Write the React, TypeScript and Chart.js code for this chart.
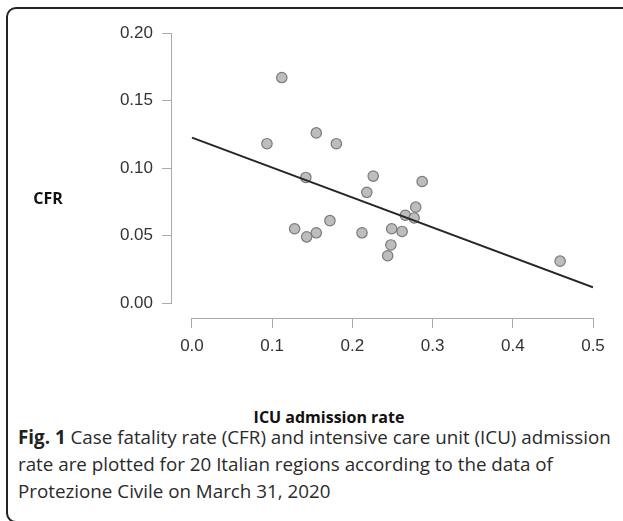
import React, { useEffect, useRef } from "react";
import { Chart, registerables } from "chart.js";

Chart.register(...registerables);

// ICU admission rate (x) and case fatality rate (y) per Italian region
const icuRate = [0.112, 0.0935, 0.155, 0.18, 0.142, 0.226, 0.218, 0.287, 0.172, 0.128, 0.155, 0.143, 0.212, 0.249, 0.262, 0.279, 0.266, 0.277, 0.248, 0.244, 0.459];
const cfr = [0.167, 0.118, 0.126, 0.118, 0.093, 0.094, 0.082, 0.09, 0.061, 0.055, 0.052, 0.049, 0.052, 0.055, 0.053, 0.071, 0.065, 0.063, 0.043, 0.035, 0.031];

const xTicks = [0, 0.1, 0.2, 0.3, 0.4, 0.5];
const yTicks = [0, 0.05, 0.1, 0.15, 0.2];

const xTitle = "ICU admission rate";
const yTitle = "CFR";

function fit(xs: number[], ys: number[]) {
  const n = xs.length;
  const mx = xs.reduce((a, b) => a + b, 0) / n;
  const my = ys.reduce((a, b) => a + b, 0) / n;
  let sxy = 0;
  let sxx = 0;
  for (let i = 0; i < n; i++) {
    sxy += (xs[i] - mx) * (ys[i] - my);
    sxx += (xs[i] - mx) * (xs[i] - mx);
  }
  const slope = sxy / sxx;
  return { slope, intercept: my - slope * mx };
}

const rAxes = {
  id: "rAxes",
  beforeDatasetsDraw(chart: any) {
    const { ctx, chartArea, scales } = chart;
    const x = scales.x;
    const y = scales.y;
    ctx.save();
    ctx.strokeStyle = "#aaaaaa";
    ctx.lineWidth = 1;
    ctx.beginPath();
    const bx = Math.round(chartArea.bottom) + 0.5;
    ctx.moveTo(x.getPixelForValue(xTicks[0]), bx);
    ctx.lineTo(x.getPixelForValue(xTicks[xTicks.length - 1]), bx);
    const lx = Math.round(chartArea.left) - 0.5;
    ctx.moveTo(lx, y.getPixelForValue(yTicks[0]));
    ctx.lineTo(lx, y.getPixelForValue(yTicks[yTicks.length - 1]));
    ctx.stroke();
    ctx.restore();
  },
};

function App() {
  const ref = useRef<HTMLCanvasElement | null>(null);
  useEffect(() => {
    if (!ref.current) return;
    const { slope, intercept } = fit(icuRate, cfr);
    const lineX = [xTicks[0], xTicks[xTicks.length - 1]];
    const tickFont = { family: "'Liberation Sans', Arial, sans-serif", size: 17 };
    const chart = new Chart(ref.current, {
      type: "scatter",
      data: {
        datasets: [
          {
            type: "line",
            data: lineX.map((v) => ({ x: v, y: intercept + slope * v })),
            borderColor: "#262626",
            borderWidth: 2,
            pointRadius: 0,
            showLine: true,
            fill: false,
            order: 0,
          } as any,
          {
            data: icuRate.map((v, i) => ({ x: v, y: cfr[i] })),
            backgroundColor: "#bdbdbd",
            borderColor: "#7a7a7a",
            borderWidth: 1.2,
            pointRadius: 5.2,
            order: 1,
          },
        ],
      },
      options: {
        animation: false,
        responsive: false,
        devicePixelRatio: 1,
        layout: { padding: { top: 33, right: 30, left: 0, bottom: 0 } },
        plugins: { legend: { display: false }, tooltip: { enabled: false } },
        scales: {
          x: {
            type: "linear",
            min: -0.0249,
            max: 0.5,
            afterBuildTicks: (s: any) => {
              s.ticks = xTicks.map((v) => ({ value: v }));
            },
            afterFit: (s: any) => {
              s.height = 52;
            },
            ticks: {
              color: "#333333",
              font: tickFont,
              padding: 8,
              maxRotation: 0,
              callback: (v: any) => Number(v).toFixed(1),
            },
            grid: { drawOnChartArea: false, drawTicks: true, tickLength: 10, color: "#aaaaaa" },
            border: { display: false },
          },
          y: {
            type: "linear",
            min: -0.0111,
            max: 0.2,
            afterBuildTicks: (s: any) => {
              s.ticks = yTicks.map((v) => ({ value: v }));
            },
            afterFit: (s: any) => {
              s.width = 172;
            },
            ticks: {
              color: "#333333",
              font: tickFont,
              padding: 9,
              callback: (v: any) => Number(v).toFixed(2),
            },
            grid: { drawOnChartArea: false, drawTicks: true, tickLength: 10, color: "#aaaaaa" },
            border: { display: false },
          },
        },
      },
      plugins: [rAxes],
    });
    return () => chart.destroy();
  }, []);

  const sans = "'Open Sans', 'Noto Sans', sans-serif";
  return (
    <div style={{ position: "absolute", left: 0, top: 0, width: 623, height: 521, overflow: "hidden", background: "#fff" }}>
      <div
        style={{
          position: "absolute",
          left: 6,
          top: 7,
          width: 680,
          height: 516,
          border: "2px solid #222",
          borderRadius: 10,
          boxSizing: "border-box",
        }}
      />
      <canvas ref={ref} width={623} height={370} style={{ position: "absolute", left: 0, top: 0, width: 623, height: 370 }} />
      <div
        style={{
          position: "absolute",
          left: 48,
          top: 198,
          transform: "translate(-50%, -50%)",
          fontFamily: sans,
          fontWeight: 700,
          fontSize: 16,
          color: "#111",
          whiteSpace: "nowrap",
        }}
      >
        {yTitle}
      </div>
      <div
        style={{
          position: "absolute",
          left: 329,
          top: 417,
          transform: "translate(-50%, -50%)",
          fontFamily: sans,
          fontWeight: 700,
          fontSize: 16,
          color: "#111",
          whiteSpace: "nowrap",
        }}
      >
        {xTitle}
      </div>
      <div
        style={{
          position: "absolute",
          left: 18,
          top: 424,
          fontFamily: sans,
          fontSize: 18.8,
          lineHeight: "27px",
          color: "#2a2a2a",
          whiteSpace: "nowrap",
        }}
      >
        <span style={{ fontWeight: 700, color: "#222" }}>Fig. 1</span> Case fatality rate (CFR) and intensive care unit (ICU) admission
        <br />
        rate are plotted for 20 Italian regions according to the data of
        <br />
        Protezione Civile on March 31, 2020
      </div>
    </div>
  );
}

export default App;
